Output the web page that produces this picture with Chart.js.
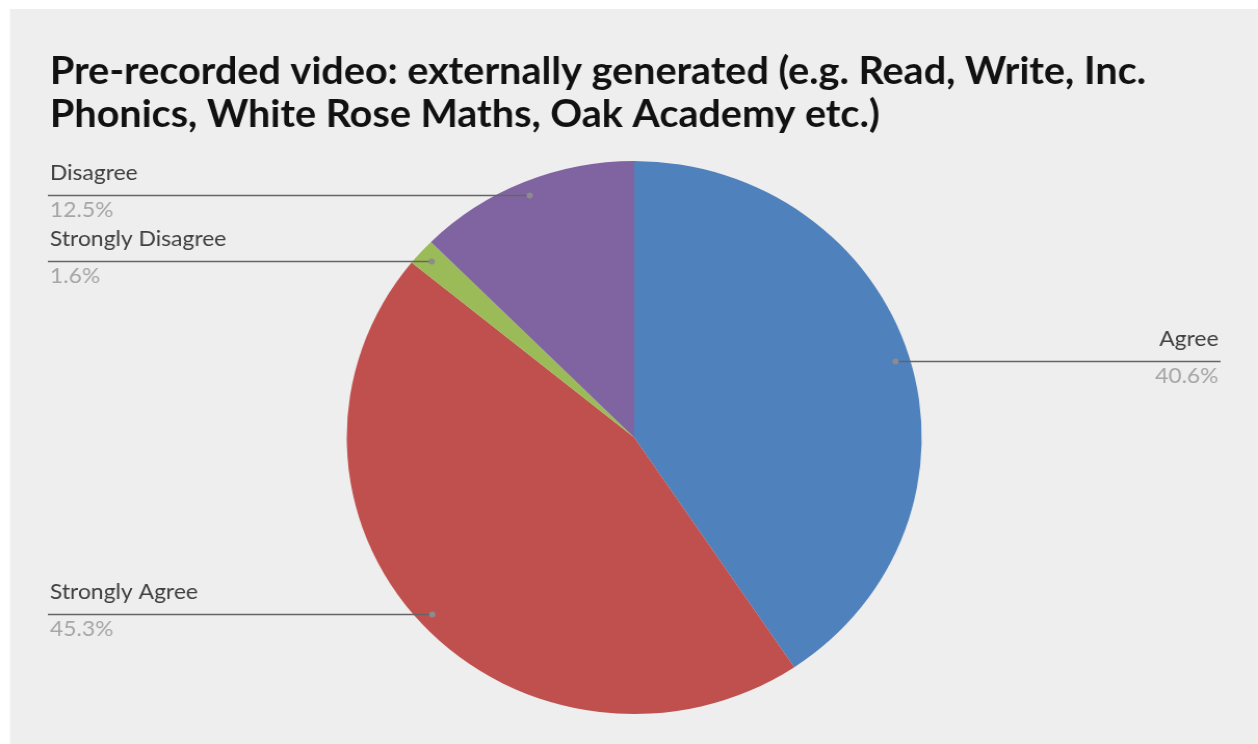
<!DOCTYPE html>
<html>
<head>
<meta charset="utf-8">
<title>Pre-recorded video</title>
<script src="https://cdn.jsdelivr.net/npm/chart.js@4"></script>
<style>
html, body { margin: 0; padding: 0; background: #ffffff; overflow: hidden; }
/* the original picture is a little wider than tall, so stretch the whole thing */
#wrap { width: 1210px; height: 744px; transform: scaleX(1.0397); transform-origin: 0 0; }
</style>
</head>
<body>
<div id="wrap"><canvas id="pieChart" width="1210" height="744"></canvas></div>
<script>
// answers, clockwise from 12 o'clock
var categories = ['Agree', 'Strongly Agree', 'Strongly Disagree', 'Disagree'];
var percentValues = [40.6, 45.3, 1.6, 12.5];
var valueLabels = ['40.6%', '45.3%', '1.6%', '12.5%'];
var sliceColours = ['#4f81bd', '#c0504d', '#9bbb59', '#8064a2'];
var titleLines = [
    'Pre-recorded video: externally generated (e.g. Read, Write, Inc.',
    'Phonics, White Rose Maths, Oak Academy etc.)'
];

// grey panel behind the chart
var panelBackground = {
    id: 'panelBackground',
    beforeDraw: function(chart) {
        var ctx = chart.ctx;
        ctx.save();
        ctx.fillStyle = '#eeeeee';
        ctx.fillRect(9.6, 9, chart.width - 9.6, chart.height - 9);
        ctx.restore();
    }
};

// excel style labels: name above a leader line, percentage below it
var leaderLabels = {
    id: 'leaderLabels',
    afterDatasetsDraw: function(chart) {
        var ctx = chart.ctx;
        var arcs = chart.getDatasetMeta(0).data;
        ctx.save();
        arcs.forEach(function(arc, i) {
            var mid = (arc.startAngle + arc.endAngle) / 2;
            var r = arc.outerRadius * 0.95;
            var px = arc.x + Math.cos(mid) * r;
            var py = Math.round(arc.y + Math.sin(mid) * r) + 0.5;
            var onRight = px > arc.x;
            var lineEnd = onRight ? 1174 : 46;
            var textX = onRight ? 1172 : 48;

            ctx.strokeStyle = '#646464';
            ctx.lineWidth = 1.3;
            ctx.beginPath();
            ctx.moveTo(lineEnd, py);
            ctx.lineTo(px, py);
            ctx.stroke();

            ctx.fillStyle = '#8c8c8c';
            ctx.beginPath();
            ctx.arc(px, py, 3, 0, Math.PI * 2);
            ctx.fill();

            ctx.textAlign = onRight ? 'right' : 'left';
            ctx.textBaseline = 'middle';
            ctx.font = '22px Lato';
            ctx.fillStyle = '#404040';
            ctx.fillText(categories[i], textX, py - 23);
            ctx.fillStyle = '#a6a6a6';
            ctx.fillText(valueLabels[i], textX, py + 14);
        });
        ctx.restore();
    }
};

function initializePieChart() {
    const ctx = document.getElementById('pieChart').getContext('2d');

    const myChart = new Chart(ctx, {
        type: 'pie',
        data: {
            labels: categories,
            datasets: [{
                data: percentValues,
                backgroundColor: sliceColours,
                borderWidth: 0
            }]
        },
        options: {
            responsive: false,
            animation: false,
            devicePixelRatio: 1,
            layout: {
                padding: { left: 48, right: 38, top: 0, bottom: 30 }
            },
            plugins: {
                legend: { display: false },
                tooltip: { enabled: false },
                title: {
                    display: true,
                    text: titleLines,
                    align: 'start',
                    color: '#111111',
                    font: { family: 'Lato', size: 38, weight: 'bold', lineHeight: 1.132 },
                    padding: { top: 50.5, bottom: 24.5 }
                }
            }
        },
        plugins: [panelBackground, leaderLabels]
    });
}

document.addEventListener('DOMContentLoaded', initializePieChart);
</script>
</body>
</html>
